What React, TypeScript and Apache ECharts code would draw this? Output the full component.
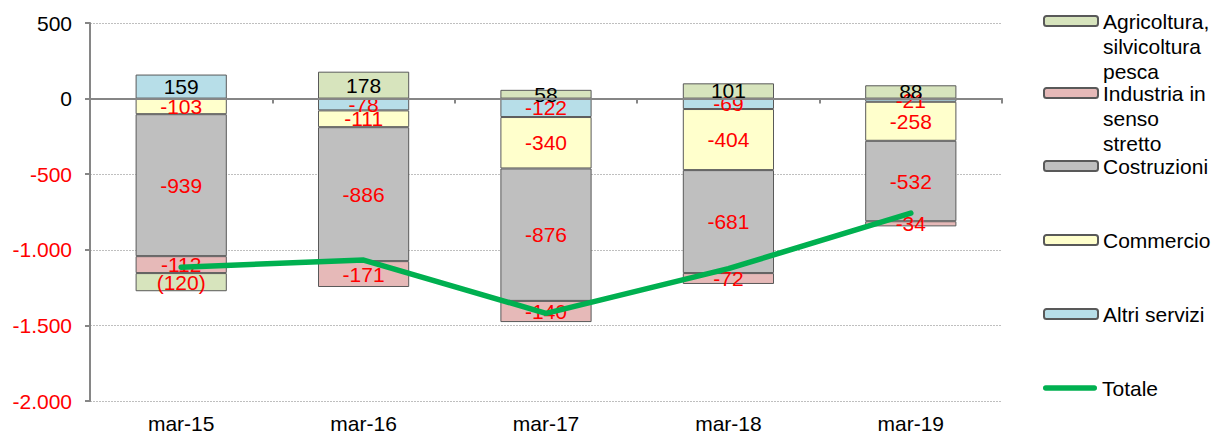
import React, { useEffect, useRef } from "react";
import * as echarts from "echarts";

const categories = ["mar-15", "mar-16", "mar-17", "mar-18", "mar-19"];
const agricoltura = [-120, 178, 58, 101, 88];
const industria = [-112, -171, -140, -72, -34];
const costruzioni = [-939, -886, -876, -681, -532];
const commercio = [-103, -111, -340, -404, -258];
const altriServizi = [159, -78, -122, -69, -21];
const totale = [-1115, -1068, -1420, -1125, -757];

const Y_MIN = -2000;
const Y_MAX = 500;
const Y_STEP = 500;

const FONT = "'Liberation Sans', Arial, sans-serif";
const FS = 21;

const fmt = (v: number) => {
  const s = Math.abs(v).toString().replace(/\B(?=(\d{3})+(?!\d))/g, ".");
  return (v < 0 ? "-" : "") + s;
};

type SeriesDef = {
  name: string;
  legendText: string[];
  data: number[];
  color: string;
  paren?: boolean;
  legendY: number;
};

const barDefs: SeriesDef[] = [
  { name: "Altri servizi", legendText: ["Altri servizi"], data: altriServizi, color: "#b7dee8", legendY: 314 },
  { name: "Commercio", legendText: ["Commercio"], data: commercio, color: "#ffffcc", legendY: 240 },
  { name: "Costruzioni", legendText: ["Costruzioni"], data: costruzioni, color: "#bfbfbf", legendY: 166 },
  { name: "Industria in senso stretto", legendText: ["Industria in", "senso", "stretto"], data: industria, color: "#e6b9b8", legendY: 93 },
  { name: "Agricoltura, silvicoltura pesca", legendText: ["Agricoltura,", "silvicoltura", "pesca"], data: agricoltura, color: "#d7e4bd", paren: true, legendY: 21 },
];

const LINE_H = 25;

function makeLegend(name: string, lines: string[], centerY: number, extra: any = {}) {
  const n = lines.length;
  const total = 2 * n - 1;
  const text = "\n".repeat(n - 1) + lines.join("\n");
  return {
    data: [name],
    left: 1043,
    top: centerY - (total * LINE_H) / 2,
    orient: "vertical",
    padding: 0,
    itemWidth: 54,
    itemHeight: 10,
    itemGap: 0,
    selectedMode: false,
    formatter: () => text,
    textStyle: { fontSize: FS, lineHeight: LINE_H, color: "#000", fontFamily: FONT },
    ...extra,
  };
}

export default function App() {
  const ref = useRef<HTMLDivElement>(null);
  useEffect(() => {
    if (!ref.current) return;
    const chart = echarts.init(ref.current, null, { renderer: "svg" });

    const barSeries = barDefs.map((d) => ({
      name: d.name,
      type: "bar",
      stack: "tot",
      barWidth: "50%",
      xAxisIndex: 0,
      z: 2,
      itemStyle: { color: d.color, borderColor: "#595959", borderWidth: 1 },
      label: {
        show: true,
        position: "inside",
        fontSize: FS,
        fontFamily: FONT,
        formatter: (p: any) =>
          d.paren && p.value < 0 ? "(" + fmt(-p.value) + ")" : fmt(p.value),
      },
      data: d.data.map((v) => ({
        value: v,
        label: { color: v < 0 ? "#ff0000" : "#000000" },
      })),
    }));

    const lineSeries = {
      name: "Totale",
      type: "line",
      xAxisIndex: 0,
      z: 5,
      symbol: "none",
      lineStyle: { color: "#00b050", width: 5.5, cap: "round", join: "round" },
      itemStyle: { color: "#00b050" },
      data: totale,
    };

    const legends = [
      ...[...barDefs].reverse().map((d) => makeLegend(d.name, d.legendText, d.legendY)),
      makeLegend("Totale", ["Totale"], 388, {
        icon: "path://M2.75,0 H51.25 A2.75,2.75 0 0 1 51.25,5.5 H2.75 A2.75,2.75 0 0 1 2.75,0 Z",
        itemHeight: 5.5,
        itemStyle: { color: "#00b050", borderWidth: 0 },
      }),
    ];

    chart.setOption({
      animation: false,
      textStyle: { fontFamily: FONT },
      grid: { left: 90, right: 210, top: 23, bottom: 33, containLabel: false },
      legend: legends,
      xAxis: [
        {
          type: "category",
          data: categories,
          position: "bottom",
          axisLine: { show: false, onZero: false },
          axisTick: { show: false },
          axisLabel: { fontSize: FS, color: "#000", margin: 12, fontFamily: FONT },
          splitLine: { show: false },
        },
        {
          type: "category",
          data: categories,
          position: "bottom",
          z: 3,
          axisLine: { show: true, onZero: true, lineStyle: { color: "#868686", width: 2 } },
          axisTick: { show: true, length: 5, lineStyle: { color: "#868686", width: 2 } },
          axisLabel: { show: false },
          splitLine: { show: false },
        },
      ],
      yAxis: {
        type: "value",
        min: Y_MIN,
        max: Y_MAX,
        interval: Y_STEP,
        axisLine: { show: true, lineStyle: { color: "#868686", width: 2 } },
        axisTick: { show: true, length: 5, lineStyle: { color: "#868686", width: 2 } },
        axisLabel: {
          fontSize: FS,
          fontFamily: FONT,
          margin: 18,
          formatter: (v: number) => fmt(v),
          color: (v: any) => (Number(v) < 0 ? "#ff0000" : "#000000"),
        },
        splitLine: { show: true, lineStyle: { color: "#bfbfbf", type: [2, 1], width: 1 } },
      },
      series: [...barSeries, lineSeries],
    });
    return () => chart.dispose();
  }, []);
  return (
    <div
      ref={ref}
      style={{ position: "fixed", left: 0, top: 0, width: 1212, height: 434, background: "#fff" }}
    />
  );
}
